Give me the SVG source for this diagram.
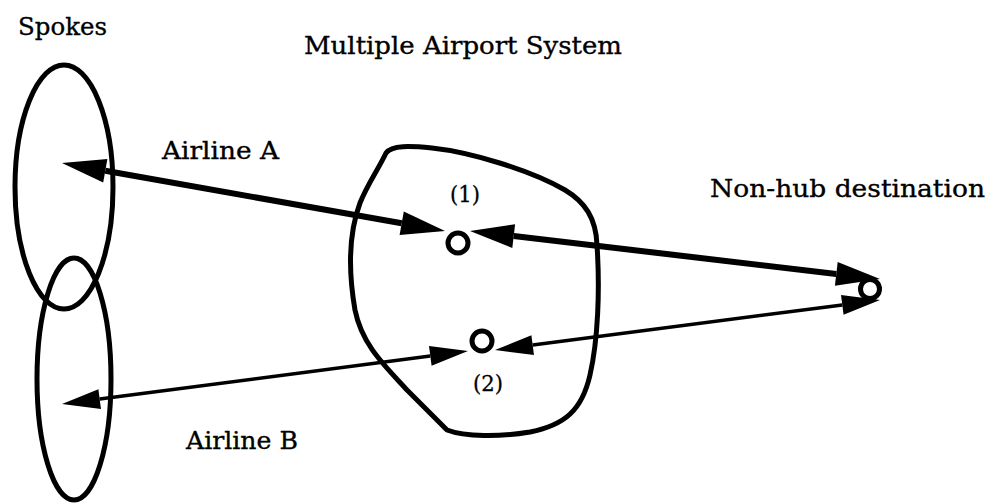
<svg xmlns="http://www.w3.org/2000/svg" width="991" height="503" viewBox="0 0 991 503">
<style>
  .lbl { font-family: "DejaVu Serif", "Liberation Serif", serif; font-size: 25px; fill: #000; stroke: #000; stroke-width: 0.35; }
  .num { font-family: "DejaVu Serif", "Liberation Serif", serif; font-size: 23px; fill: #000; stroke: #000; stroke-width: 0.3; }
  .shape { fill: none; stroke: #000; stroke-width: 5; stroke-linejoin: round; }
  .node { fill: #fff; stroke: #000; stroke-width: 5; }
  .thick { stroke: #000; stroke-width: 6; fill: none; }
  .thin { stroke: #000; stroke-width: 3.5; fill: none; }
</style>
<defs>
  <marker id="bigHead" markerUnits="userSpaceOnUse" markerWidth="46" markerHeight="26" refX="0" refY="12" orient="auto-start-reverse" overflow="visible">
    <path d="M0,0 L44,12 L0,24 Z" fill="#000"/>
  </marker>
  <marker id="smallHead" markerUnits="userSpaceOnUse" markerWidth="40" markerHeight="22" refX="0" refY="10" orient="auto-start-reverse" overflow="visible">
    <path d="M0,0 L38,10 L0,20 Z" fill="#000"/>
  </marker>
</defs>
<rect width="991" height="503" fill="#fff"/>

<g id="spokes">
  <ellipse class="shape" cx="64" cy="187" rx="49" ry="122"/>
  <ellipse class="shape" cx="74" cy="379" rx="37" ry="121"/>
  <text class="lbl" x="18" y="35" textLength="89" lengthAdjust="spacingAndGlyphs">Spokes</text>
</g>

<g id="multiple-airport-system">
  <path class="shape" d="M386,153 C392,145 410,146 432,148 C470,152 530,170 565,190 C585,202 596,218 597,245 C600,290 598,340 590,375 C582,410 565,425 530,432 C500,437 465,437 447,430 L407,390 C385,366 362,345 355,310 C349,275 348,235 360,203 C368,183 378,170 386,153 Z"/>
  <text class="lbl" x="304" y="54" textLength="318" lengthAdjust="spacingAndGlyphs">Multiple Airport System</text>
</g>

<g id="connectors">
  <line class="thick" x1="105.3" y1="170.7" x2="401.7" y2="223.3" marker-start="url(#bigHead)" marker-end="url(#bigHead)"/>
  <line class="thick" x1="513.7" y1="236.1" x2="836.3" y2="273.9" marker-start="url(#bigHead)" marker-end="url(#bigHead)"/>
  <line class="thin" x1="99.7" y1="399.1" x2="430.3" y2="355.9" marker-start="url(#smallHead)" marker-end="url(#smallHead)"/>
  <line class="thin" x1="532.7" y1="345.1" x2="842.3" y2="304.9" marker-start="url(#smallHead)" marker-end="url(#smallHead)"/>
  <text class="lbl" x="162" y="159" textLength="117" lengthAdjust="spacingAndGlyphs">Airline A</text>
  <text class="lbl" x="186" y="449" textLength="112" lengthAdjust="spacingAndGlyphs">Airline B</text>
</g>

<g id="airport-1">
  <circle class="node" cx="458" cy="243" r="10"/>
  <text class="num" x="450" y="202" textLength="30" lengthAdjust="spacingAndGlyphs">(1)</text>
</g>

<g id="airport-2">
  <circle class="node" cx="482" cy="341" r="10"/>
  <text class="num" x="473" y="391" textLength="30" lengthAdjust="spacingAndGlyphs">(2)</text>
</g>

<g id="non-hub-destination">
  <circle class="node" cx="870" cy="289" r="9.5"/>
  <text class="lbl" x="710" y="197" textLength="275" lengthAdjust="spacingAndGlyphs">Non-hub destination</text>
</g>
</svg>
